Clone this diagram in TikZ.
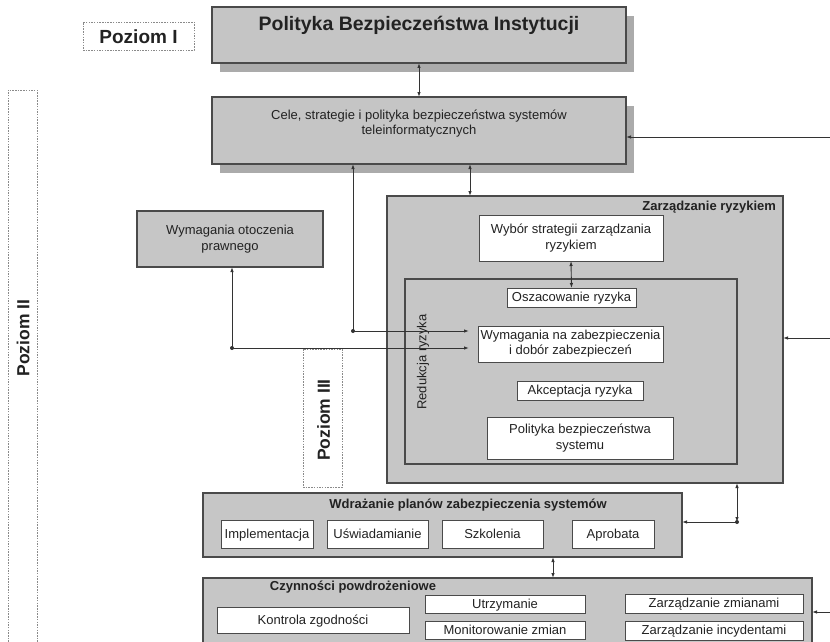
\documentclass[tikz,border=0pt]{standalone}
\usepackage{fontspec}
\setmainfont{Liberation Sans}
\usetikzlibrary{shadows,arrows.meta}
\definecolor{boxgray}{HTML}{C5C5C5}
\definecolor{panelgray}{HTML}{C6C6C6}
\definecolor{shadowgray}{HTML}{ABABAB}
\definecolor{bordergray}{HTML}{4A4A4A}
\definecolor{linegray}{HTML}{333333}
\definecolor{dotgray}{HTML}{8A8A8A}
\definecolor{txt}{HTML}{222222}
\begin{document}
\begin{tikzpicture}[x=1pt,y=-1pt,
  every node/.style={inner sep=0pt,outer sep=0pt,text=txt,font=\fontsize{13}{15.5}\selectfont},
  mainbox/.style={draw=bordergray,line width=2.5pt,fill=boxgray,
     drop shadow={shadow xshift=8pt,shadow yshift=-9pt,fill=shadowgray,opacity=1}},
  panel/.style={draw=bordergray,line width=1.2pt,fill=panelgray},
  whitebox/.style={draw=bordergray,line width=1pt,fill=white,align=center},
  oneline/.style={text height=10.5pt,text depth=2pt},
  levelbox/.style={draw=dotgray,line width=0.8pt,dash pattern=on 1.5pt off 1.2pt},
  leveltext/.style={font=\bfseries\fontsize{17.5}{20}\selectfont},
  conn/.style={draw=linegray,line width=0.9pt},
  tip/.style={-{Latex[length=5pt,width=3.5pt]}},
  dtip/.style={{Latex[length=5pt,width=3.5pt]}-{Latex[length=5pt,width=3.5pt]}},
  dot/.style={circle,fill=linegray,minimum size=4pt}]
\useasboundingbox (0,0) rectangle (830,642);
\clip (0,0) rectangle (830,642);

% level boxes
\node[levelbox,minimum width=111pt,minimum height=28pt] (pI) at (138.5,36) {};
\node[leveltext,font=\bfseries\fontsize{19}{22}\selectfont] (pIt) at (138.5,37) {Poziom I};
\node[minimum width=29pt,minimum height=560pt] (pII) at (22.5,370) {};
\draw[levelbox] (pII.south west) -- (pII.north west) -- (pII.north east) -- (pII.south east);
\node[leveltext,rotate=90] (pIIt) at (23,338) {Poziom II};
\node[levelbox,minimum width=39pt,minimum height=138pt] (pIII) at (322.5,418) {};
\node[leveltext,rotate=90] (pIIIt) at (323.5,420) {Poziom III};

% top boxes
\node[mainbox,minimum width=414pt,minimum height=56pt] (top) at (419,35) {};
\node[font=\bfseries\fontsize{19.5}{22}\selectfont] (topt) at (419,25) {Polityka Bezpieczeństwa Instytucji};
\node[mainbox,minimum width=414pt,minimum height=67pt] (cele) at (419,130.5) {};
\node[align=center] (celet) at (419,123.5) {Cele, strategie i polityka bezpieczeństwa systemów\\teleinformatycznych};

% legal requirements
\node[panel,minimum width=186pt,minimum height=56pt,align=center] (wymo) at (230,239) {Wymagania otoczenia\\prawnego};

% risk management
\node[panel,minimum width=396pt,minimum height=287pt] (zar) at (585,339.5) {};
\node[anchor=east,font=\bfseries\fontsize{13}{15}\selectfont] (zart) at (776,207) {Zarządzanie ryzykiem};
\node[whitebox,minimum width=184pt,minimum height=46pt] (wyb) at (571,238) {Wybór strategii zarządzania\\ryzykiem};
\node[panel,minimum width=332pt,minimum height=185pt] (red) at (571,371.5) {};
\node[rotate=90] (redt) at (423,362) {Redukcja ryzyka};
\node[whitebox,oneline,minimum width=129pt,minimum height=19pt] (osz) at (571.5,297.5) {Oszacowanie ryzyka};
\node[whitebox,minimum width=185pt,minimum height=36pt,font=\fontsize{13}{15}\selectfont] (wnz) at (570.5,344) {Wymagania na zabezpieczenia\\i dobór zabezpieczeń};
\node[whitebox,oneline,minimum width=126pt,minimum height=19pt] (akc) at (580,390.5) {Akceptacja ryzyka};
\node[whitebox,minimum width=186pt,minimum height=42pt] (pbs) at (580,438) {Polityka bezpieczeństwa\\systemu};

% implementation
\node[panel,minimum width=479pt,minimum height=64pt] (wdr) at (442.5,525) {};
\node[font=\bfseries\fontsize{13}{15}\selectfont] (wdrt) at (468,505) {Wdrażanie planów zabezpieczenia systemów};
\node[whitebox,oneline,minimum width=92pt,minimum height=28pt] (impl) at (267,534) {Implementacja};
\node[whitebox,oneline,minimum width=101pt,minimum height=28pt] (usw) at (377.5,534) {Uświadamianie};
\node[whitebox,oneline,minimum width=101pt,minimum height=28pt] (szk) at (492.5,534) {Szkolenia};
\node[whitebox,oneline,minimum width=82pt,minimum height=28pt] (apr) at (613,534) {Aprobata};

% post-implementation
\node[panel,minimum width=609pt,minimum height=80pt] (czy) at (507.5,618) {};
\node[font=\bfseries\fontsize{13}{15}\selectfont] (czyt) at (353,587) {Czynności powdrożeniowe};
\node[whitebox,oneline,minimum width=192pt,minimum height=26pt] (kon) at (313,620) {Kontrola zgodności};
\node[whitebox,oneline,minimum width=160pt,minimum height=18pt] (utr) at (505,604) {Utrzymanie};
\node[whitebox,oneline,minimum width=160pt,minimum height=18pt] (mon) at (505,630) {Monitorowanie zmian};
\node[whitebox,oneline,minimum width=178pt,minimum height=19pt] (zzm) at (714,603.5) {Zarządzanie zmianami};
\node[whitebox,oneline,minimum width=178pt,minimum height=19pt] (zin) at (714,630.5) {Zarządzanie incydentami};

% connector points
\coordinate (j1) at (353,331);
\coordinate (j2) at (232,348);
\coordinate (j3) at (737,522);
\coordinate (c470) at (470,0);
\coordinate (c553) at (553,0);
\coordinate (r1) at (830,137);
\coordinate (r2) at (830,338);
\coordinate (r3) at (830,612);

% connectors
\draw[conn,dtip] (top.south) -- (cele.north);
\draw[conn,tip] (j1) -- (j1 |- cele.south);
\draw[conn,tip,shorten >=9pt] (j1) -- (j1 -| wnz.west);
\draw[conn,tip] (j2) -- (j2 |- wymo.south);
\draw[conn,tip,shorten >=9pt] (j2) -- (j2 -| wnz.west);
\draw[conn,dtip] (c470 |- cele.south) -- (c470 |- zar.north);
\draw[conn,tip] (r1) -- (r1 -| cele.east);
\draw[conn,tip] (r2) -- (r2 -| zar.east);
\draw[conn,tip] (r3) -- (r3 -| czy.east);
\draw[conn,dtip] (wyb.south) -- (osz.north);
\draw[conn,dtip] (j3 |- zar.south) -- (j3);
\draw[conn,tip] (j3) -- (j3 -| wdr.east);
\draw[conn,dtip] (c553 |- wdr.south) -- (c553 |- czy.north);
\node[dot] (d1) at (j1) {};
\node[dot] (d2) at (j2) {};
\node[dot] (d3) at (j3) {};
\end{tikzpicture}
\end{document}
